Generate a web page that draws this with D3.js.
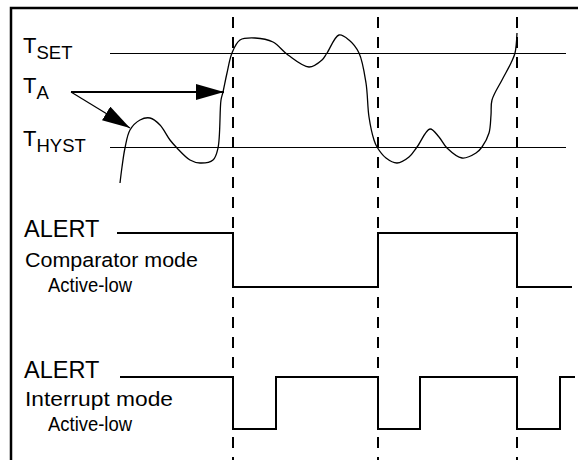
<!DOCTYPE html>
<html>
<head>
<meta charset="utf-8">
<script src="https://cdn.jsdelivr.net/npm/d3@7"></script>
<style>
body { margin: 0; background: #fff; }
text { font-family: "Liberation Sans", Arial, Helvetica, sans-serif; fill: #000; }
</style>
</head>
<body>
<div id="main"></div>
<script>
// time runs left to right, temperature in arbitrary units
var tempTime = [3, 5, 8, 13, 23, 33, 43, 53, 60, 73, 83, 96, 101, 104, 106, 110, 115, 123, 138, 156, 171,
    192, 205, 210, 222, 232, 242, 249, 252, 257, 260, 269, 280, 292, 300, 313, 322, 330, 345, 359, 365,
    372, 374, 375, 385, 394, 398, 400];
var tempValue = [12, 20, 29.5, 38.5, 43.5, 44.5, 41, 33.5, 29.5, 23.5, 22, 23.5, 29.5, 53.5, 57.5, 67, 77, 83.5, 84.5, 82.5, 76,
    70, 73.5, 77, 86, 83.5, 77, 62, 45, 33.5, 30, 24.5, 22, 25, 30, 39, 35, 29.5, 24.5, 27, 30,
    37, 46, 53.5, 63.5, 72, 77, 87];
var tSet = 77;
var tHyst = 30;
var thresholdStart = -7;
var thresholdEnd = 449;

// moments where T_A crosses a threshold
var eventTimes = [116, 261, 400];

// ALERT signal levels: 1 = high, 0 = low
var compTimes = [0, 116, 261, 400, 455];
var compLevels = [1, 0, 1, 0, 0];
var intTimes = [3, 116, 159, 261, 303, 400, 443, 458];
var intLevels = [1, 0, 1, 0, 1, 0, 1, 1];

var width = 578, height = 460;
var svg = d3.select('#main').append('svg')
    .attr('width', width)
    .attr('height', height);

var xScale = d3.scaleLinear().domain([0, 460]).range([117, 577]);
var yTemp = d3.scaleLinear().domain([30, 77]).range([147, 53]);
var yComp = d3.scaleLinear().domain([0, 1]).range([287, 233]);
var yInt = d3.scaleLinear().domain([0, 1]).range([429, 377]);

// frame (top and left edges)
svg.append('path')
    .attr('d', 'M11,460 L11,8 L578,8')
    .attr('fill', 'none')
    .attr('stroke', '#000')
    .attr('stroke-width', 2.5);

var defs = svg.append('defs');
defs.append('marker')
    .attr('id', 'head')
    .attr('viewBox', '0 0 28 16')
    .attr('refX', 28)
    .attr('refY', 8)
    .attr('markerWidth', 28)
    .attr('markerHeight', 16)
    .attr('markerUnits', 'userSpaceOnUse')
    .attr('orient', 'auto')
    .append('path')
    .attr('d', 'M0,0 L28,8 L0,16 Z')
    .attr('fill', '#000');

// threshold lines
[tSet, tHyst].forEach(function(v) {
    svg.append('line')
        .attr('x1', xScale(thresholdStart))
        .attr('x2', xScale(thresholdEnd))
        .attr('y1', yTemp(v) + 0.5)
        .attr('y2', yTemp(v) + 0.5)
        .attr('stroke', '#000')
        .attr('stroke-width', 1);
});

// dashed event lines
svg.append('g').selectAll('line')
    .data(eventTimes)
    .enter()
    .append('line')
    .attr('x1', function(d) { return xScale(d); })
    .attr('x2', function(d) { return xScale(d); })
    .attr('y1', 17)
    .attr('y2', 460)
    .attr('stroke', '#000')
    .attr('stroke-width', 2)
    .attr('stroke-dasharray', '11,9');

// temperature curve
var tempData = tempTime.map(function(t, i) { return {t: t, v: tempValue[i]}; });
var tempLine = d3.line()
    .x(function(d) { return xScale(d.t); })
    .y(function(d) { return yTemp(d.v); })
    .curve(d3.curveCatmullRom.alpha(0.5));
svg.append('path')
    .datum(tempData)
    .attr('d', tempLine)
    .attr('fill', 'none')
    .attr('stroke', '#000')
    .attr('stroke-width', 1.3);

// arrows from T_A label
svg.append('line')
    .attr('x1', 71).attr('y1', 92)
    .attr('x2', xScale(106) + 1).attr('y2', 92)
    .attr('stroke', '#000')
    .attr('stroke-width', 2)
    .attr('marker-end', 'url(#head)');
svg.append('line')
    .attr('x1', 71).attr('y1', 92)
    .attr('x2', xScale(13)).attr('y2', yTemp(38.5) - 2)
    .attr('stroke', '#000')
    .attr('stroke-width', 1.2)
    .attr('marker-end', 'url(#head)');

// ALERT signals
function drawSignal(times, levels, yScale) {
    var data = times.map(function(t, i) { return {t: t, v: levels[i]}; });
    var line = d3.line()
        .x(function(d) { return xScale(d.t); })
        .y(function(d) { return yScale(d.v); })
        .curve(d3.curveStepAfter);
    svg.append('path')
        .datum(data)
        .attr('d', line)
        .attr('fill', 'none')
        .attr('stroke', '#000')
        .attr('stroke-width', 2);
}
drawSignal(compTimes, compLevels, yComp);
drawSignal(intTimes, intLevels, yInt);

// labels
function tLabel(sub, y) {
    var t = svg.append('text')
        .attr('x', 23)
        .attr('y', y)
        .style('font-size', '22px');
    t.append('tspan').text('T');
    t.append('tspan')
        .attr('dy', 6)
        .style('font-size', '18.5px')
        .text(sub);
}
tLabel('SET', 53);
tLabel('A', 93);
tLabel('HYST', 146);

function label(txt, x, y, size, len) {
    var t = svg.append('text').attr('x', x).attr('y', y).style('font-size', size + 'px').text(txt);
    if (len) t.attr('textLength', len).attr('lengthAdjust', 'spacingAndGlyphs');
}
label('ALERT', 24, 237, 23.5);
label('Comparator mode', 25, 267, 20.5, 173);
label('Active-low', 48, 292, 19.5, 84);

label('ALERT', 24, 378, 23.5);
label('Interrupt mode', 25, 406, 20.5, 148);
label('Active-low', 48, 431, 19.5, 84);
</script>
</body>
</html>
